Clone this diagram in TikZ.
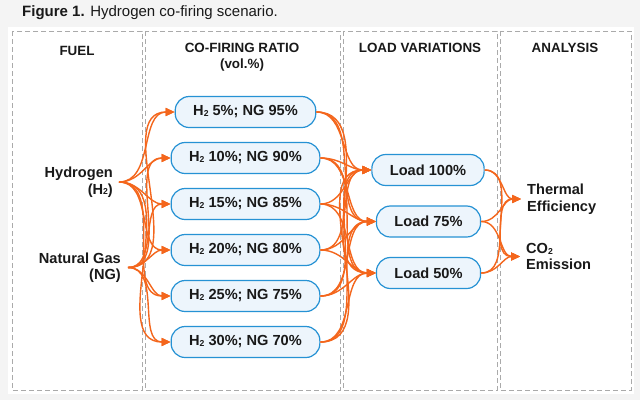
\documentclass[tikz,border=0pt]{standalone}
\usepackage{fontspec}
\setmainfont{Liberation Sans}
\usetikzlibrary{arrows.meta}
\definecolor{flowc}{RGB}{244,102,28}
\definecolor{boxline}{RGB}{38,146,212}
\definecolor{boxfill}{RGB}{237,245,252}
\definecolor{dashc}{RGB}{170,170,170}
\definecolor{bgc}{RGB}{244,244,244}
\definecolor{txt}{RGB}{25,25,25}
\newcommand{\subtwo}{\raisebox{-0.06em}{\fontsize{8.6}{9}\selectfont 2}}
\begin{document}
\begin{tikzpicture}[x=1pt,y=-1pt,
 panel/.style={draw=dashc, line width=1pt, dash pattern=on 5pt off 3pt},
 header/.style={font=\fontsize{13.4}{16}\selectfont\bfseries, text=txt, align=center, inner sep=0pt},
 ratiobox/.style={draw=boxline, fill=boxfill, line width=1.2pt, rounded corners=14pt, minimum height=31pt, inner xsep=18pt, font=\fontsize{14.6}{17}\selectfont\bfseries, text=txt},
 lbl/.style={font=\fontsize{14.6}{16.5}\selectfont\bfseries, text=txt, inner ysep=0pt},
 flow/.style={draw=flowc, line width=1.4pt, -{Triangle[length=9pt,width=8pt]}},
]
\useasboundingbox (0,0) rectangle (640,400);
\fill[bgc] (0,0) rectangle (640,400);
\fill[white] (8,27) rectangle (634,394);
\node[anchor=base west, font=\fontsize{15}{18}\selectfont, text=txt, inner sep=0pt] (cap) at (22,16.5) {\textbf{Figure 1.} Hydrogen co-firing scenario.};
% panels
\draw[panel] (12,31) rectangle (142,390);
\draw[panel] (145,31) rectangle (340,390);
\draw[panel] (343,31) rectangle (497,390);
\draw[panel] (500,31) rectangle (631,390);
% headers
\node[header] (hfuel) at (77,51) {FUEL};
\node[header] (hratio) at (242,57) {CO-FIRING RATIO\\(vol.\%)};
\node[header] (hload) at (420,48) {LOAD VARIATIONS};
\node[header] (hana) at (565,48) {ANALYSIS};
% fuel
\node[lbl, align=right, anchor=east, inner xsep=6pt] (h2) at (119,182) {Hydrogen\\(H\subtwo)};
\node[lbl, align=right, anchor=east, inner xsep=7pt] (ng) at (128,267.5) {Natural Gas\\(NG)};
% ratios
\node[ratiobox] (r1) at (245.5,112) {H\subtwo\ 5\%; NG 95\%};
\node[ratiobox] (r2) at (245.5,158) {H\subtwo\ 10\%; NG 90\%};
\node[ratiobox] (r3) at (245.5,204) {H\subtwo\ 15\%; NG 85\%};
\node[ratiobox] (r4) at (245.5,250) {H\subtwo\ 20\%; NG 80\%};
\node[ratiobox] (r5) at (245.5,296) {H\subtwo\ 25\%; NG 75\%};
\node[ratiobox] (r6) at (245.5,342) {H\subtwo\ 30\%; NG 70\%};
% loads
\node[ratiobox] (l1) at (428,170) {Load 100\%};
\node[ratiobox] (l2) at (428.5,221.5) {Load 75\%};
\node[ratiobox] (l3) at (428.5,273) {Load 50\%};
% analysis
\node[lbl, align=left, anchor=west, inner xsep=6pt] (te) at (521,199) {Thermal\\Efficiency};
\node[lbl, align=left, anchor=west, inner xsep=6pt] (co) at (520,256.5) {CO\subtwo\\Emission};
% flows
\foreach \s in {h2,ng}{
  \foreach \t in {r1,r2,r3,r4,r5,r6}{
    \draw[flow] (\s.east) to[out=0,in=180] (\t.west);
  }
}
\foreach \s in {r1,r2,r3,r4,r5,r6}{
  \foreach \t in {l1,l2,l3}{
    \draw[flow] (\s.east) to[out=0,in=180] (\t.west);
  }
}
\foreach \s in {l1,l2,l3}{
  \foreach \t in {te,co}{
    \draw[flow] (\s.east) to[out=0,in=180] (\t.west);
  }
}
\end{tikzpicture}
\end{document}
